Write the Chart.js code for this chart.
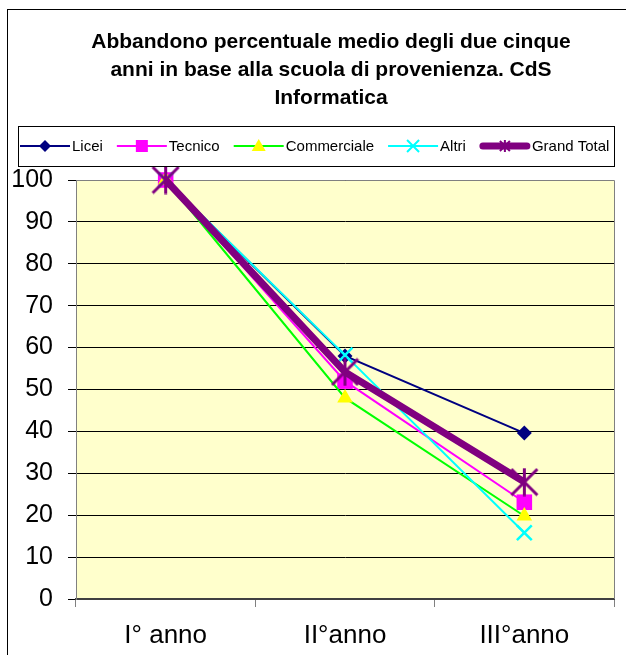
<!DOCTYPE html>
<html>
<head>
<meta charset="utf-8">
<script src="https://cdn.jsdelivr.net/npm/chart.js@4.4.1/dist/chart.umd.min.js"></script>
<style>
html, body { margin: 0; padding: 0; background: #fff; overflow: hidden; }
#wrap { width: 626px; height: 655px; }
</style>
</head>
<body>
<div id="wrap"><canvas id="grafico" width="626" height="655"></canvas></div>
<script>
// dati
var anni = ["I° anno", "II°anno", "III°anno"];
var licei = [100, 58, 39.6];
var tecnico = [100, 52, 23.1];
var commerciale = [100, 48, 19.8];
var altri = [100, 58.2, 15.8];
var totale = [100, 54.2, 27.9];
var nomi = ["Licei", "Tecnico", "Commerciale", "Altri", "Grand Total"];
var titolo = [
    "Abbandono percentuale medio degli due cinque",
    "anni in base alla scuola di provenienza. CdS",
    "Informatica"
];

var FONT = "'Liberation Sans', Arial, sans-serif";

function stella(size, color, lw)
{
    var c = document.createElement('canvas');
    c.width = size; c.height = size;
    var g = c.getContext('2d');
    var m = size / 2, d = size / 2 - 1.5;
    g.strokeStyle = color;
    g.lineWidth = lw;
    g.beginPath();
    g.moveTo(m, 0.5); g.lineTo(m, size - 0.5);
    g.moveTo(m - d, m - d); g.lineTo(m + d, m + d);
    g.moveTo(m + d, m - d); g.lineTo(m - d, m + d);
    g.stroke();
    return c;
}

var colori = ['#000080', '#FF00FF', '#00FF00', '#00FFFF', '#800080'];

// sfondo area del grafico e cornici
var sfondo = {
    id: 'sfondo',
    beforeDraw: function (chart) {
        var ctx = chart.ctx, a = chart.chartArea;
        ctx.save();
        ctx.fillStyle = '#fff';
        ctx.fillRect(0, 0, chart.width, chart.height);
        ctx.strokeStyle = '#000';
        ctx.lineWidth = 1;
        ctx.strokeRect(7.5, 9.5, 800, 800);
        ctx.fillStyle = '#FFFFCC';
        ctx.fillRect(a.left, a.top, a.right - a.left, a.bottom - a.top);
        ctx.restore();
    },
    beforeDatasetsDraw: function (chart) {
        var ctx = chart.ctx, a = chart.chartArea;
        ctx.save();
        ctx.strokeStyle = '#808080';
        ctx.lineWidth = 1;
        ctx.beginPath();
        ctx.moveTo(a.left, a.top + 0.5);
        ctx.lineTo(a.right + 0.5, a.top + 0.5);
        ctx.lineTo(a.right + 0.5, a.bottom);
        ctx.stroke();
        ctx.restore();
    }
};

function marcatore(ctx, i, x, y)
{
    ctx.fillStyle = colori[i];
    ctx.strokeStyle = colori[i];
    if (i == 0) {
        ctx.fillStyle = '#000080';
        ctx.beginPath();
        ctx.moveTo(x, y - 6); ctx.lineTo(x + 6, y); ctx.lineTo(x, y + 6); ctx.lineTo(x - 6, y);
        ctx.closePath(); ctx.fill();
    } else if (i == 1) {
        ctx.fillRect(x - 6, y - 6, 12, 12);
    } else if (i == 2) {
        ctx.fillStyle = '#FFFF00';
        ctx.beginPath();
        ctx.moveTo(x, y - 7); ctx.lineTo(x + 7, y + 5); ctx.lineTo(x - 7, y + 5);
        ctx.closePath(); ctx.fill();
    } else if (i == 3) {
        ctx.lineWidth = 2;
        ctx.beginPath();
        ctx.moveTo(x - 6, y - 6); ctx.lineTo(x + 6, y + 6);
        ctx.moveTo(x + 6, y - 6); ctx.lineTo(x - 6, y + 6);
        ctx.stroke();
    } else {
        ctx.lineWidth = 2;
        ctx.beginPath();
        ctx.moveTo(x, y - 6); ctx.lineTo(x, y + 6);
        ctx.moveTo(x - 5, y - 5); ctx.lineTo(x + 5, y + 5);
        ctx.moveTo(x + 5, y - 5); ctx.lineTo(x - 5, y + 5);
        ctx.stroke();
    }
}

// titolo e legenda disegnati a mano
var intestazione = {
    id: 'intestazione',
    afterDraw: function (chart) {
        var ctx = chart.ctx;
        ctx.save();
        ctx.fillStyle = '#000';
        ctx.font = 'bold 21px ' + FONT;
        ctx.textAlign = 'center';
        ctx.textBaseline = 'alphabetic';
        for (var i = 0; i < titolo.length; i++) {
            ctx.fillText(titolo[i], 331, 48 + i * 28);
        }

        ctx.strokeStyle = '#000';
        ctx.lineWidth = 1;
        ctx.strokeRect(18.5, 126.5, 596, 40);

        ctx.font = '15px ' + FONT;
        ctx.textAlign = 'left';
        ctx.textBaseline = 'middle';
        var x = 20, y = 146;
        for (var k = 0; k < nomi.length; k++) {
            ctx.strokeStyle = colori[k];
            ctx.lineWidth = (k == 4) ? 7 : 2;
            ctx.lineCap = (k == 4) ? 'round' : 'butt';
            ctx.beginPath();
            ctx.moveTo(x + (k == 4 ? 3 : 0), y);
            ctx.lineTo(x + 50 - (k == 4 ? 3 : 0), y);
            ctx.stroke();
            ctx.lineCap = 'butt';
            marcatore(ctx, k, x + 25, y);
            ctx.fillStyle = '#000';
            ctx.fillText(nomi[k], x + 52, y + 1);
            x = x + 52 + ctx.measureText(nomi[k]).width + 14;
        }
        ctx.restore();
    }
};

var chartdata = {
    labels: anni,
    datasets: [
        {
            label: nomi[0], data: licei, order: 5,
            borderColor: colori[0], backgroundColor: colori[0], borderWidth: 2,
            pointStyle: 'rectRot', pointRadius: 7.5, pointBorderWidth: 0
        },
        {
            label: nomi[1], data: tecnico, order: 4,
            borderColor: colori[1], backgroundColor: colori[1], borderWidth: 2,
            pointStyle: 'rect', pointRadius: 11, pointBorderWidth: 0
        },
        {
            label: nomi[2], data: commerciale, order: 3,
            borderColor: colori[2], backgroundColor: '#FFFF00', borderWidth: 2,
            pointStyle: 'triangle', pointRadius: 9, pointBorderWidth: 0
        },
        {
            label: nomi[3], data: altri, order: 2,
            borderColor: colori[3], backgroundColor: colori[3], borderWidth: 2,
            pointStyle: 'crossRot', pointRadius: 10.5, pointBorderWidth: 2.5,
            pointBorderColor: colori[3]
        },
        {
            label: nomi[4], data: totale, order: 1,
            borderColor: colori[4], backgroundColor: colori[4], borderWidth: 7,
            pointStyle: stella(29, colori[4], 3), pointRadius: 14
        }
    ]
};

var grafico = new Chart(document.getElementById('grafico'), {
    type: 'line',
    data: chartdata,
    plugins: [sfondo, intestazione],
    options: {
        responsive: false,
        animation: false,
        devicePixelRatio: 1,
        layout: { autoPadding: false, padding: { top: 180, right: 12, left: 0, bottom: 0 } },
        elements: { line: { tension: 0 } },
        datasets: { line: { clip: false } },
        plugins: {
            legend: { display: false },
            title: { display: false },
            tooltip: { enabled: false }
        },
        scales: {
            x: {
                offset: true,
                grid: { display: true, drawOnChartArea: false, drawTicks: true, tickLength: 8, color: '#808080', offset: true },
                border: { display: true, color: '#404040', width: 2 },
                ticks: { color: '#000', font: { family: FONT, size: 26 }, padding: 13, maxRotation: 0 },
                afterFit: function (s) { s.height = 56; s.paddingLeft = 0; s.paddingRight = 0; }
            },
            y: {
                min: 0, max: 100,
                grid: { color: '#000', lineWidth: 1, tickLength: 8 },
                border: { display: true, color: '#808080', width: 1 },
                ticks: { stepSize: 10, color: '#000', font: { family: FONT, size: 25 }, padding: 15 },
                afterFit: function (s) { s.width = 76; }
            }
        }
    }
});
</script>
</body>
</html>
